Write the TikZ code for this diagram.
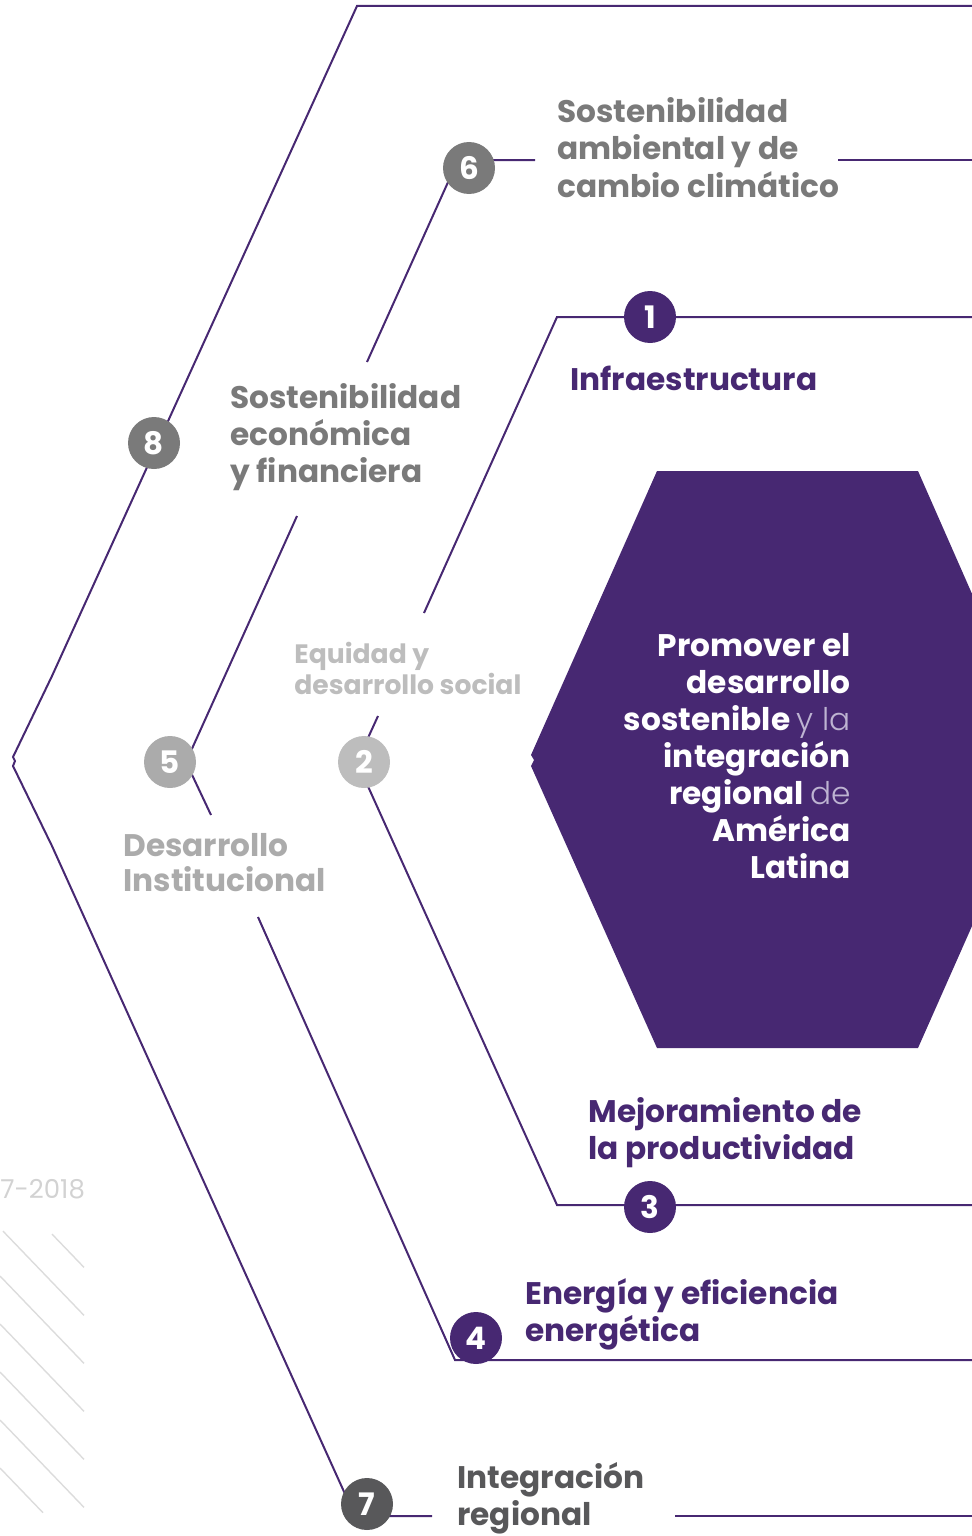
\documentclass[tikz,border=0pt]{standalone}
\usepackage{fontspec}
\setmainfont{Poppins}
\newfontfamily\thinfont{Poppins Light}

\definecolor{cafpurple}{RGB}{71,40,114}
\definecolor{greyA}{RGB}{122,122,122}
\definecolor{greyB}{RGB}{171,171,171}
\definecolor{greyC}{RGB}{189,189,189}
\definecolor{greyD}{RGB}{88,88,90}
\definecolor{greyE}{RGB}{210,210,210}
\definecolor{hatchgrey}{RGB}{220,220,220}
\definecolor{lightword}{RGB}{190,180,210}

\begin{document}
\begin{tikzpicture}[x=0.5pt,y=-0.5pt,
		hexline/.style={draw=cafpurple,line width=1pt},
		hatch/.style={draw=hatchgrey,line width=0.7pt},
		num/.style={circle,fill=#1,text=white,minimum size=26pt,inner sep=0pt,font=\bfseries\fontsize{15.5}{15.5}\selectfont},
		lbl/.style={text=#1,anchor=base west,align=left,inner sep=0pt,font=\bfseries\fontsize{15.6}{18.5}\selectfont}]
			\useasboundingbox (0,0) rectangle (972,1536);
			
			% goal
			
			\fill[cafpurple] (657,471) -- (918,471) -- (980,612) -- (980,908) -- (918,1048) -- (657,1048) -- (531,766) -- (534,760) -- (531,755) -- cycle;
			
			% outer ring
			
			\coordinate (A0) at (972,6);
			\coordinate (A1) at (357,6);
			\coordinate (A2) at (52,676);
			\coordinate (A3) at (13,757);
			\coordinate (A4) at (15,761);
			\coordinate (A5) at (13,766);
			\coordinate (A6) at (52,846);
			\coordinate (A7) at (355,1516);
			\coordinate (A8) at (432,1516);
			\coordinate (A9) at (675,1516);
			\coordinate (A10) at (972,1516);
			\draw[hexline] (A0) -- (A1) -- (A2) -- (A3) -- (A4) -- (A5) -- (A6) -- (A7) -- (A8);
			\draw[hexline] (A9) -- (A10);
			
			% middle ring
			
			\coordinate (B0) at (972,160);
			\coordinate (B1) at (838,160);
			\coordinate (B2) at (535,160);
			\coordinate (B3) at (458,160);
			\coordinate (B4) at (367,362);
			\coordinate (B5) at (297,516);
			\coordinate (B6) at (186,762);
			\coordinate (B7) at (211,815);
			\coordinate (B8) at (258,917);
			\coordinate (B9) at (455,1360);
			\coordinate (B10) at (972,1360);
			\draw[hexline] (B0) -- (B1);
			\draw[hexline] (B2) -- (B3) -- (B4);
			\draw[hexline] (B5) -- (B6) -- (B7);
			\draw[hexline] (B8) -- (B9) -- (B10);
			
			% inner ring
			
			\coordinate (C0) at (972,317);
			\coordinate (C1) at (557,317);
			\coordinate (C2) at (424,613);
			\coordinate (C3) at (378,716);
			\coordinate (C4) at (357,762);
			\coordinate (C5) at (557,1205);
			\coordinate (C6) at (972,1205);
			\draw[hexline] (C0) -- (C1) -- (C2);
			\draw[hexline] (C3) -- (C4) -- (C5) -- (C6);
			
			% hatching
			
			\foreach \sx/\ex/\yo in {52/84/1180, 3/84/1228, 0/84/1276, 0/84/1324, 0/84/1372, 0/84/1420, 0/43/1468}
				\draw[hatch] (\sx,\yo+1.04*\sx) -- (\ex,\yo+1.04*\ex);
			
			% numbers
			
			\foreach \i/\pos/\col in {1/{(650,317)}/cafpurple, 2/{(364,762)}/greyC, 3/{(650,1207)}/cafpurple, 4/{(476,1338)}/cafpurple, 5/{(170,762)}/greyB, 6/{(469,168)}/greyA, 7/{(367,1504)}/greyD, 8/{(154,443)}/greyA}
				\node[num=\col] (n\i) at \pos {\i};
			
			% labels (placed at the baseline of the last line)
			
			\node[lbl=greyA] (t6) at (557,197) {Sostenibilidad\\ambiental y de\\cambio climático};
			\node[lbl=cafpurple] (t1) at (570,390) {Infraestructura};
			\node[lbl=greyA] (t8) at (230,482) {Sostenibilidad\\económica\\y financiera};
			\node[lbl=greyC,font=\bfseries\fontsize{13.3}{15.5}\selectfont] (t2) at (294,694) {Equidad y\\desarrollo social};
			\node[lbl=greyB,font=\bfseries\fontsize{15.6}{17.5}\selectfont] (t5) at (123,891) {Desarrollo\\Institucional};
			\node[lbl=cafpurple] (t3) at (588,1159) {Mejoramiento de\\la productividad};
			\node[lbl=cafpurple] (t4) at (525,1341) {Energía y eficiencia\\energética};
			\node[lbl=greyD] (t7) at (457,1525) {Integración\\regional};
			\node[text=white,anchor=base east,align=right,inner sep=0pt,font=\bfseries\fontsize{15.6}{18.45}\selectfont] (goal) at (851,878) {Promover el\\desarrollo\\sostenible {\mdseries\thinfont\color{lightword}y la}\\integración\\regional {\mdseries\thinfont\color{lightword}de}\\América\\Latina};
			\node[text=greyE,anchor=base west,inner sep=0pt,font=\fontsize{13}{13}\selectfont] (year) at (0,1198) {7-2018};
			
		\end{tikzpicture}
\end{document}
